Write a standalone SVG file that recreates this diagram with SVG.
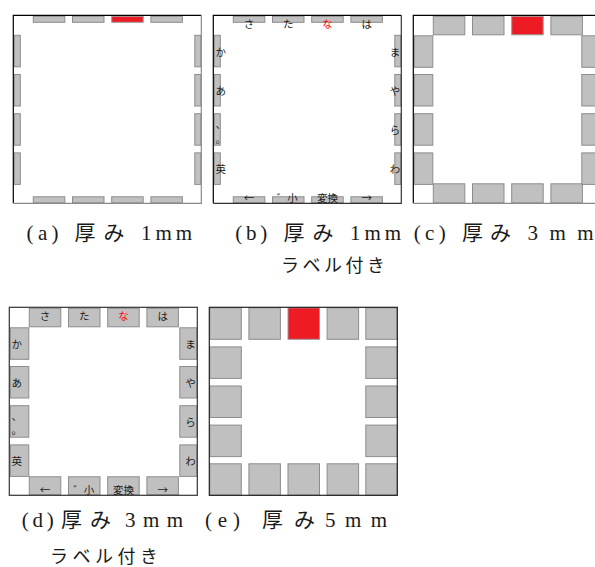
<svg xmlns="http://www.w3.org/2000/svg" width="595" height="567" viewBox="0 0 595 567">
<style>
.k{fill:#c0c0c0;stroke:#8c8c8c;stroke-width:1}
.r{fill:#ed1c24;stroke:#9a9a9a;stroke-width:1}
.fd{stroke:#000;stroke-width:1.2;fill:none}
.fg{stroke:#8a8a8a;stroke-width:1.2;fill:none}
.lb{font-family:"Noto Sans CJK JP","Noto Sans",sans-serif;font-size:10.5px;fill:#1a1a1a}
.lm{text-anchor:middle}
.le{text-anchor:end}
.red{fill:#ff0000}
.cap{font-family:"Liberation Serif","Noto Sans CJK JP",serif;font-size:21px;fill:#1a1a1a}
.capj{font-family:"Noto Sans CJK JP",sans-serif;font-size:21px;fill:#1a1a1a}
.capl{font-family:"Noto Sans CJK JP",sans-serif;font-size:18px;fill:#1a1a1a}
</style>
<rect width="595" height="567" fill="#fff"/>

<!-- (a) 1mm -->
<g id="panel-a" transform="translate(13.3,15.3)">
  <rect class="k" x="20" y="1" width="31.5" height="6"/>
  <rect class="k" x="59.2" y="1" width="31.5" height="6"/>
  <rect class="r" x="98.4" y="1" width="31.5" height="6"/>
  <rect class="k" x="137.6" y="1" width="31.5" height="6"/>
  <rect class="k" x="20" y="181.5" width="31.5" height="6"/>
  <rect class="k" x="59.2" y="181.5" width="31.5" height="6"/>
  <rect class="k" x="98.4" y="181.5" width="31.5" height="6"/>
  <rect class="k" x="137.6" y="181.5" width="31.5" height="6"/>
  <rect class="k" x="1" y="20" width="6" height="31.5"/>
  <rect class="k" x="1" y="59.2" width="6" height="31.5"/>
  <rect class="k" x="1" y="98.4" width="6" height="31.5"/>
  <rect class="k" x="1" y="137.6" width="6" height="31.5"/>
  <rect class="k" x="181.5" y="20" width="6" height="31.5"/>
  <rect class="k" x="181.5" y="59.2" width="6" height="31.5"/>
  <rect class="k" x="181.5" y="98.4" width="6" height="31.5"/>
  <rect class="k" x="181.5" y="137.6" width="6" height="31.5"/>
  <path class="fd" d="M0,188V0H188"/>
  <path class="fg" d="M188,0V188H0"/>
</g>

<!-- (b) 1mm labelled -->
<g id="panel-b" transform="translate(213.3,15.3)">
  <rect class="k" x="20" y="1" width="31.5" height="6"/>
  <rect class="k" x="59.2" y="1" width="31.5" height="6"/>
  <rect class="k" x="98.4" y="1" width="31.5" height="6"/>
  <rect class="k" x="137.6" y="1" width="31.5" height="6"/>
  <rect class="k" x="20" y="181.5" width="31.5" height="6"/>
  <rect class="k" x="59.2" y="181.5" width="31.5" height="6"/>
  <rect class="k" x="98.4" y="181.5" width="31.5" height="6"/>
  <rect class="k" x="137.6" y="181.5" width="31.5" height="6"/>
  <rect class="k" x="1" y="20" width="6" height="31.5"/>
  <rect class="k" x="1" y="59.2" width="6" height="31.5"/>
  <rect class="k" x="1" y="98.4" width="6" height="31.5"/>
  <rect class="k" x="1" y="137.6" width="6" height="31.5"/>
  <rect class="k" x="181.5" y="20" width="6" height="31.5"/>
  <rect class="k" x="181.5" y="59.2" width="6" height="31.5"/>
  <rect class="k" x="181.5" y="98.4" width="6" height="31.5"/>
  <rect class="k" x="181.5" y="137.6" width="6" height="31.5"/>
  <path class="fd" d="M0,188V0H188"/>
  <path stroke="#333" stroke-width="1.2" fill="none" d="M188,0V188H0"/>
  <text class="lb lm" x="35.75" y="13">さ</text>
  <text class="lb lm" x="74.95" y="13">た</text>
  <text class="lb lm red" x="114.15" y="13">な</text>
  <text class="lb lm" x="153.35" y="13">は</text>
  <text class="lb" x="2.3" y="40.5">か</text>
  <text class="lb" x="2.3" y="79.7">あ</text>
  <text class="lb" x="2.3" y="113.2">、</text>
  <text class="lb" x="2.3" y="127.7">。</text>
  <text class="lb" x="2.3" y="157.8">英</text>
  <text class="lb le" x="187" y="40.5">ま</text>
  <text class="lb le" x="187" y="79.7">や</text>
  <text class="lb le" x="187" y="118.9">ら</text>
  <text class="lb le" x="187" y="157.8">わ</text>
  <text class="lb lm" x="35.75" y="186.7">←</text>
  <text class="lb lm" x="74" y="186.7">゛小</text>
  <text class="lb lm" x="114.15" y="186.7">変換</text>
  <text class="lb lm" x="153.35" y="186.7">→</text>
</g>

<!-- (c) 3mm -->
<g id="panel-c" transform="translate(413.3,15.3)">
  <rect class="k" x="20" y="1" width="31.5" height="18.5"/>
  <rect class="k" x="59.2" y="1" width="31.5" height="18.5"/>
  <rect class="r" x="98.4" y="1" width="31.5" height="18.5"/>
  <rect class="k" x="137.6" y="1" width="31.5" height="18.5"/>
  <rect class="k" x="20" y="168.5" width="31.5" height="19"/>
  <rect class="k" x="59.2" y="168.5" width="31.5" height="19"/>
  <rect class="k" x="98.4" y="168.5" width="31.5" height="19"/>
  <rect class="k" x="137.6" y="168.5" width="31.5" height="19"/>
  <rect class="k" x="1" y="20.5" width="18.5" height="31.5"/>
  <rect class="k" x="1" y="59.2" width="18.5" height="31.5"/>
  <rect class="k" x="1" y="98.4" width="18.5" height="31.5"/>
  <rect class="k" x="1" y="137.6" width="18.5" height="31.5"/>
  <rect class="k" x="168.5" y="20.5" width="19" height="31.5"/>
  <rect class="k" x="168.5" y="59.2" width="19" height="31.5"/>
  <rect class="k" x="168.5" y="98.4" width="19" height="31.5"/>
  <rect class="k" x="168.5" y="137.6" width="19" height="31.5"/>
  <path class="fd" d="M0,188V0H188"/>
  <path class="fg" d="M188,0V188H0"/>
</g>

<!-- (d) 3mm labelled -->
<g id="panel-d" transform="translate(9.3,307.3)">
  <rect class="k" x="20" y="1" width="31.5" height="18.5"/>
  <rect class="k" x="59.2" y="1" width="31.5" height="18.5"/>
  <rect class="k" x="98.4" y="1" width="31.5" height="18.5"/>
  <rect class="k" x="137.6" y="1" width="31.5" height="18.5"/>
  <rect class="k" x="20" y="169.5" width="31.5" height="18"/>
  <rect class="k" x="59.2" y="169.5" width="31.5" height="18"/>
  <rect class="k" x="98.4" y="169.5" width="31.5" height="18"/>
  <rect class="k" x="137.6" y="169.5" width="31.5" height="18"/>
  <rect class="k" x="1" y="20.5" width="18.5" height="31.5"/>
  <rect class="k" x="1" y="59.2" width="18.5" height="31.5"/>
  <rect class="k" x="1" y="98.4" width="18.5" height="31.5"/>
  <rect class="k" x="1" y="137.6" width="18.5" height="31.5"/>
  <rect class="k" x="170.5" y="20.5" width="17" height="31.5"/>
  <rect class="k" x="170.5" y="59.2" width="17" height="31.5"/>
  <rect class="k" x="170.5" y="98.4" width="17" height="31.5"/>
  <rect class="k" x="170.5" y="137.6" width="17" height="31.5"/>
  <rect stroke="#333" stroke-width="1.2" fill="none" x="0" y="0" width="188" height="188"/>
  <text class="lb lm" x="35.75" y="13.2">さ</text>
  <text class="lb lm" x="74.95" y="13.2">た</text>
  <text class="lb lm red" x="114.15" y="13.2">な</text>
  <text class="lb lm" x="153.35" y="13.2">は</text>
  <text class="lb" x="2.3" y="40.8">か</text>
  <text class="lb" x="2.3" y="80">あ</text>
  <text class="lb" x="2.3" y="112.7">、</text>
  <text class="lb" x="2.3" y="127.2">。</text>
  <text class="lb" x="2.3" y="158">英</text>
  <text class="lb le" x="186.4" y="40.8">ま</text>
  <text class="lb le" x="186.4" y="80">や</text>
  <text class="lb le" x="186.4" y="119">ら</text>
  <text class="lb le" x="186.4" y="158">わ</text>
  <text class="lb lm" x="35.75" y="186.7">←</text>
  <text class="lb lm" x="74.5" y="186.7">゛小</text>
  <text class="lb lm" x="114.15" y="186.7">変換</text>
  <text class="lb lm" x="153.35" y="186.7">→</text>
</g>

<!-- (e) 5mm -->
<g id="panel-e" transform="translate(209.3,307.3)">
  <rect class="k" x="0.5" y="0.5" width="31.5" height="31.5"/>
  <rect class="k" x="39.6" y="0.5" width="31.5" height="31.5"/>
  <rect class="r" x="78.7" y="0.5" width="31.5" height="31.5"/>
  <rect class="k" x="117.8" y="0.5" width="31.5" height="31.5"/>
  <rect class="k" x="156.5" y="0.5" width="31.5" height="31.5"/>
  <rect class="k" x="0.5" y="39.6" width="31.5" height="31.5"/>
  <rect class="k" x="156.5" y="39.6" width="31.5" height="31.5"/>
  <rect class="k" x="0.5" y="78.7" width="31.5" height="31.5"/>
  <rect class="k" x="156.5" y="78.7" width="31.5" height="31.5"/>
  <rect class="k" x="0.5" y="117.8" width="31.5" height="31.5"/>
  <rect class="k" x="156.5" y="117.8" width="31.5" height="31.5"/>
  <rect class="k" x="0.5" y="156.5" width="31.5" height="31.5"/>
  <rect class="k" x="39.6" y="156.5" width="31.5" height="31.5"/>
  <rect class="k" x="78.7" y="156.5" width="31.5" height="31.5"/>
  <rect class="k" x="117.8" y="156.5" width="31.5" height="31.5"/>
  <rect class="k" x="156.5" y="156.5" width="31.5" height="31.5"/>
  <rect stroke="#222" stroke-width="1.2" fill="none" x="0" y="0" width="188" height="188"/>
</g>

<!-- captions -->
<g id="captions">
  <text class="cap" x="26.6" y="240" textLength="32" lengthAdjust="spacing">(a)</text>
  <text class="capj" x="74.5" y="240" textLength="50" lengthAdjust="spacing">厚み</text>
  <text class="cap" x="141" y="240" textLength="51" lengthAdjust="spacing">1mm</text>

  <text class="cap" x="235.3" y="240" textLength="32" lengthAdjust="spacing">(b)</text>
  <text class="capj" x="283.5" y="240" textLength="50" lengthAdjust="spacing">厚み</text>
  <text class="cap" x="350" y="240" textLength="51" lengthAdjust="spacing">1mm</text>
  <text class="capl" x="281" y="272" textLength="104" lengthAdjust="spacing">ラベル付き</text>

  <text class="cap" x="413.7" y="240" textLength="32" lengthAdjust="spacing">(c)</text>
  <text class="capj" x="462" y="240" textLength="49" lengthAdjust="spacing">厚み</text>
  <text class="cap" x="527.5" y="240" textLength="66" lengthAdjust="spacing">3mm</text>

  <text class="cap" x="21.7" y="526.5" textLength="32" lengthAdjust="spacing">(d)</text>
  <text class="capj" x="61" y="526.5" textLength="50" lengthAdjust="spacing">厚み</text>
  <text class="cap" x="125" y="526.5" textLength="58" lengthAdjust="spacing">3mm</text>
  <text class="capl" x="50" y="562.5" textLength="108" lengthAdjust="spacing">ラベル付き</text>

  <text class="cap" x="205" y="526.5" textLength="35" lengthAdjust="spacing">(e)</text>
  <text class="capj" x="262" y="526.5" textLength="53" lengthAdjust="spacing">厚み</text>
  <text class="cap" x="325" y="526.5" textLength="62" lengthAdjust="spacing">5mm</text>
</g>
</svg>
